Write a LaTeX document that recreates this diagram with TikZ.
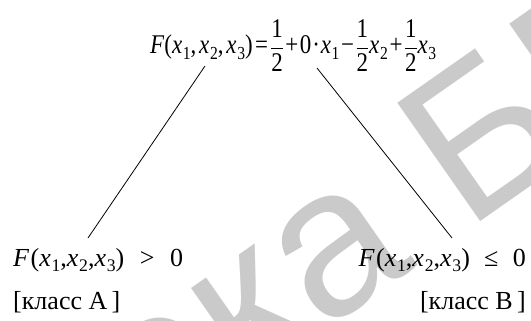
\documentclass[tikz,border=0pt]{standalone}
\usepackage{graphicx}
\usepackage{fontspec}
\setmainfont{Liberation Serif}
\newfontfamily\wmfont{Liberation Sans}
\newcommand{\vx}[1]{\textit{x}\kern0.03em\raisebox{-0.22em}{\scalebox{0.68}{#1}}}
\newcommand{\hf}{$\displaystyle\frac{\mbox{1}}{\mbox{2}}$}
\newcommand{\gap}[1]{\hspace{#1em}}
\definecolor{wmgray}{RGB}{202,202,202}
\tikzset{
  formula/.style={inner sep=0pt, font=\fontsize{26}{30}\selectfont},
  bigformula/.style={inner sep=0pt, font=\fontsize{27}{31}\selectfont},
  wm/.style={inner sep=0pt, text=wmgray, font=\wmfont\fontsize{210}{210}\selectfont},
  conn/.style={line width=0.8pt, black}
}
\begin{document}
\begin{tikzpicture}[x=1pt,y=-1pt]
\useasboundingbox (0,0) rectangle (531,321);
\begin{scope}
\clip (0,0) rectangle (531,321);
\node[wm, rotate=35, anchor=base west] (wmark) at (466,232) {\llap{Библиотека }БГУИР};
\end{scope}
\node[bigformula, anchor=base west] (top) at (150,54)
  {\scalebox{0.85}[1]{\textit{F}(\vx1,\gap{0.12}\vx2,\gap{0.12}\vx3)\gap{0.1}=\gap{0.1}\hf\gap{0.07}+\gap{0.07}0\gap{0.04}·\gap{0.04}\vx1\gap{0.07}−\gap{0.07}\hf\vx2\gap{0.07}+\gap{0.07}\hf\vx3}};
\node[formula, anchor=base west] (fa) at (13,266)
  {\textit{F}\gap{0.05}(\vx1,\vx2,\vx3)\gap{0.6}>\gap{0.6}0};
\node[formula, anchor=base west] (ka) at (13,309) {[класс A\,]};
\node[formula, anchor=base east] (fb) at (526,266)
  {\textit{F}\gap{0.05}(\vx1,\vx2,\vx3)\gap{0.55}≤\gap{0.55}0};
\node[formula, anchor=base east] (kb) at (526,309) {[класс B\,]};
\coordinate (la) at (205,66);
\coordinate (lb) at (88,238);
\coordinate (ra) at (317,68);
\coordinate (rb) at (452,238);
\draw[conn] (la) -- (lb);
\draw[conn] (ra) -- (rb);
\end{tikzpicture}
\end{document}
